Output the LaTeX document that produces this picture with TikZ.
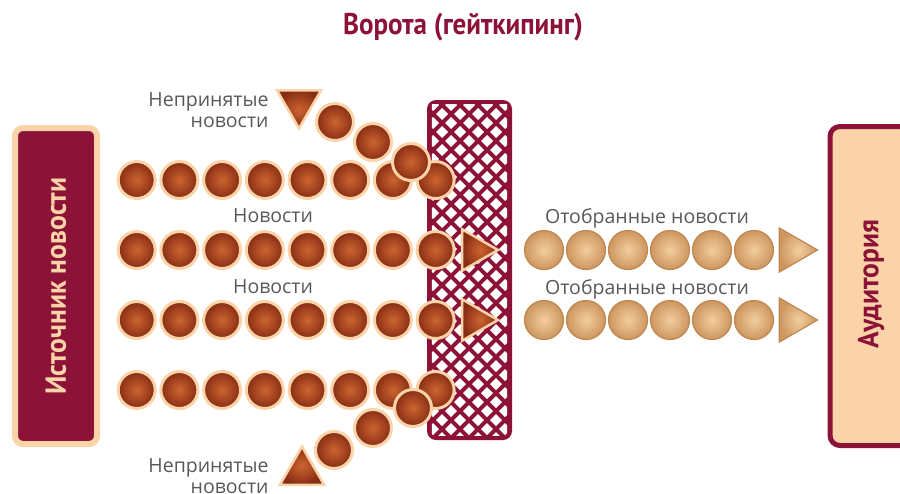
\documentclass[tikz,border=0pt]{standalone}
\usepackage{fontspec}
\setmainfont{Open Sans}
\newfontfamily\condfont{PT Sans}[FakeStretch=0.9]
\newfontfamily\boxfont{PT Sans}[FakeStretch=0.95]
\usetikzlibrary{positioning, shapes.geometric}
\definecolor{maroon}{RGB}{140,18,56}
\definecolor{peach}{RGB}{250,212,168}
\definecolor{newsin}{RGB}{205,100,48}
\definecolor{newsout}{RGB}{135,45,20}
\definecolor{selin}{RGB}{242,205,158}
\definecolor{selout}{RGB}{205,150,95}
\definecolor{selrim}{RGB}{190,135,80}
\definecolor{txt}{RGB}{88,88,88}

\begin{document}
\begin{tikzpicture}[
    x=1pt, y=-1pt,
    newsball/.style={
        circle,
        minimum size=37pt,
        inner sep=0pt,
        draw=peach,
        line width=3pt,
        inner color=newsin,
        outer color=newsout
    },
    selball/.style={
        circle,
        minimum size=39pt,
        inner sep=0pt,
        draw=selrim,
        line width=1.2pt,
        inner color=selin,
        outer color=selout
    },
    newstri/.style={
        regular polygon,
        regular polygon sides=3,
        minimum size=#1,
        inner sep=0pt,
        draw=peach,
        line width=2.5pt,
        inner color=newsin,
        outer color=newsout
    },
    seltri/.style={
        regular polygon,
        regular polygon sides=3,
        shape border rotate=-90,
        minimum size=51pt,
        inner sep=0pt,
        draw=selrim,
        line width=1.2pt,
        inner color=selin,
        outer color=selout
    },
    lbl/.style={font=\fontsize{19.5}{21.5}\selectfont, text=txt},
    boxlbl/.style={font=\boxfont\bfseries\fontsize{29}{32}\selectfont}
]
\useasboundingbox (0,0) rectangle (900,493);
\clip (0,0) rectangle (900,493);

% === Title ===
\node[font=\condfont\bfseries\fontsize{30}{34}\selectfont, text=maroon] (title) at (463,27) {Ворота (гейткипинг)};

% === Source and audience ===
\node[boxlbl, rotate=90, fill=maroon, draw=peach, line width=6pt, rounded corners=8pt,
      minimum width=316pt, minimum height=82pt, text=peach] (source) at (56,286) {Источник новости};
\node[boxlbl, rotate=90, fill=peach, draw=maroon, line width=5pt, rounded corners=10pt,
      minimum width=319pt, minimum height=90pt, text=maroon] (audience) at (875,286) {};
\node[boxlbl, rotate=90, text=maroon] (audlbl) at (871,284) {Аудитория};

% === Gate ===
\node[fill=maroon, rounded corners=9pt, minimum width=85pt, minimum height=340pt] (gate) at (469.5,270) {};
\begin{scope}
\clip ([xshift=5pt,yshift=-5pt]gate.north west) rectangle ([xshift=-5pt,yshift=5pt]gate.south east);
\foreach \i in {0,...,5}
  \foreach \j in {0,...,38} {
    \pgfmathsetmacro\dx{433+\i*18+mod(\j,2)*9}
    \pgfmathsetmacro\dy{105+\j*9}
    \fill[white] (\dx-6,\dy) -- (\dx,\dy-6) -- (\dx+6,\dy) -- (\dx,\dy+6) -- cycle;
  }
\end{scope}

% === Incoming news ===
\foreach \r/\y in {1/180,2/250,3/320,4/390}
  \foreach \k in {1,...,8}
    \node[newsball] (n\r-\k) at ({94+42.7*\k},\y) {};

\node[newstri=48pt, shape border rotate=-90] (pass2) at (474,250) {};
\node[newstri=48pt, shape border rotate=-90] (pass3) at (474,320) {};

% === Rejected news ===
\node[newsball] (up1) at (411,162) {};
\node[newsball] (up2) at (373,142) {};
\node[newsball] (up3) at (335,122) {};
\node[newstri=51pt, shape border rotate=180] (uptri) at (299,103) {};

\node[newsball] (dn1) at (413,408) {};
\node[newsball] (dn2) at (373,428) {};
\node[newsball] (dn3) at (334,450) {};
\node[newstri=51pt] (dntri) at (302,472) {};

% === Selected news ===
\foreach \r/\y in {2/250,3/320} {
  \foreach \k in {1,...,6}
    \node[selball] (s\r-\k) at ({502+42*\k},\y) {};
  \node[seltri] (out\r) at (792,\y) {};
}

% === Labels ===
\node[lbl, align=right, anchor=east] (uplbl) at (272,110) {Непринятые\\новости};
\node[lbl, align=right, anchor=east] (dnlbl) at (272,476) {Непринятые\\новости};
\node[lbl] (inlbl2) at (273,216) {Новости};
\node[lbl] (inlbl3) at (273,287) {Новости};
\node[lbl] (outlbl2) at (647,218) {Отобранные новости};
\node[lbl] (outlbl3) at (647,289) {Отобранные новости};

\end{tikzpicture}
\end{document}
